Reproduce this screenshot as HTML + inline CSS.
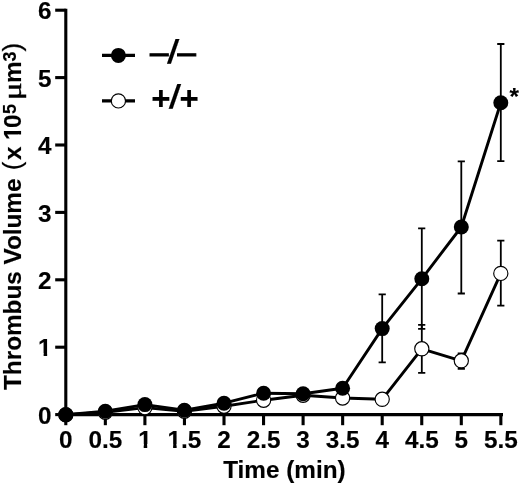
<!DOCTYPE html><html><head><meta charset="utf-8"><title>Thrombus Volume</title>
<style>html,body{margin:0;padding:0;background:#fff}svg{display:block}text{font-family:"Liberation Sans",sans-serif;font-weight:bold;fill:#000;stroke:#000;stroke-width:0.15}</style></head><body>
<svg width="520" height="484" viewBox="0 0 520 484">
<rect width="520" height="484" fill="#fff"/>
<g stroke="#000" stroke-width="3.1" fill="none" stroke-linecap="butt">
<path d="M65.80 8.8V416.15"/>
<path d="M64.25 414.60H503"/>
<path d="M55.2 414.60H65.80"/>
<path d="M55.2 347.20H65.80"/>
<path d="M55.2 279.80H65.80"/>
<path d="M55.2 212.40H65.80"/>
<path d="M55.2 145.00H65.80"/>
<path d="M55.2 77.60H65.80"/>
<path d="M55.2 10.20H65.80"/>
<path d="M65.80 414.60V425.2"/>
<path d="M105.35 414.60V425.2"/>
<path d="M144.90 414.60V425.2"/>
<path d="M184.45 414.60V425.2"/>
<path d="M224.00 414.60V425.2"/>
<path d="M263.55 414.60V425.2"/>
<path d="M303.10 414.60V425.2"/>
<path d="M342.65 414.60V425.2"/>
<path d="M382.20 414.60V425.2"/>
<path d="M421.75 414.60V425.2"/>
<path d="M461.30 414.60V425.2"/>
<path d="M500.85 414.60V425.2"/>
</g>
<g stroke="#000" stroke-width="1.8" fill="none">
<path d="M382.2 294.3V362.3M378.6 294.3h7.2M378.6 362.3h7.2"/>
<path d="M421.8 228.4V328.8M418.1 228.4h7.2M418.1 328.8h7.2"/>
<path d="M461.3 161.4V293.5M457.7 161.4h7.2M457.7 293.5h7.2"/>
<path d="M500.8 44.0V161.2M497.2 44.0h7.2M497.2 161.2h7.2"/>
<path d="M421.8 324.9V372.8M418.1 324.9h7.2M418.1 372.8h7.2"/>
<path d="M461.3 353.5V368.8M457.7 353.5h7.2M457.7 368.8h7.2"/>
<path d="M500.8 240.7V305.7M497.2 240.7h7.2M497.2 305.7h7.2"/>
</g>
<g stroke="#000" stroke-width="2.9" fill="none" stroke-linejoin="round">
<polyline points="65.8,414.7 105.3,412.2 144.9,407.6 184.4,411.2 224.0,406.2 263.6,400.2 303.1,395.2 342.6,398.0 382.2,399.3 421.8,348.8 461.3,360.8 500.8,273.4"/>
<polyline points="65.8,414.7 105.3,411.2 144.9,404.6 184.4,410.2 224.0,403.2 263.6,393.2 303.1,393.7 342.6,388.2 382.2,328.6 421.8,278.8 461.3,227.0 500.8,102.8"/>
</g>
<g stroke="#000" stroke-width="1.15" fill="#fff">
<circle cx="65.8" cy="414.7" r="7.1"/>
<circle cx="105.3" cy="412.2" r="7.1"/>
<circle cx="144.9" cy="407.6" r="7.1"/>
<circle cx="184.4" cy="411.2" r="7.1"/>
<circle cx="224.0" cy="406.2" r="7.1"/>
<circle cx="263.6" cy="400.2" r="7.1"/>
<circle cx="303.1" cy="395.2" r="7.1"/>
<circle cx="342.6" cy="398.0" r="7.1"/>
<circle cx="382.2" cy="399.3" r="7.1"/>
<circle cx="421.8" cy="348.8" r="7.1"/>
<circle cx="461.3" cy="360.8" r="7.1"/>
<circle cx="500.8" cy="273.4" r="7.1"/>
</g><g fill="#000">
<circle cx="65.8" cy="414.7" r="7.5"/>
<circle cx="105.3" cy="411.2" r="7.5"/>
<circle cx="144.9" cy="404.6" r="7.5"/>
<circle cx="184.4" cy="410.2" r="7.5"/>
<circle cx="224.0" cy="403.2" r="7.5"/>
<circle cx="263.6" cy="393.2" r="7.5"/>
<circle cx="303.1" cy="393.7" r="7.5"/>
<circle cx="342.6" cy="388.2" r="7.5"/>
<circle cx="382.2" cy="328.6" r="7.5"/>
<circle cx="421.8" cy="278.8" r="7.5"/>
<circle cx="461.3" cy="227.0" r="7.5"/>
<circle cx="500.8" cy="102.8" r="7.5"/>
</g>
<g stroke="#000" stroke-width="3.3"><path d="M102 55.4H135M102 100.9H135"/></g>
<circle cx="118.4" cy="55.4" r="7.5" fill="#000"/>
<circle cx="118.4" cy="100.9" r="7.1" fill="#fff" stroke="#000" stroke-width="1.15"/>
<g font-size="33" style="stroke-width:0">
<text x="150" y="63.4" style="font-weight:normal;stroke-width:1.0">–</text>
<text transform="translate(166.8 62.6) skewX(-9)">/</text>
<text x="177.6" y="63.4" style="font-weight:normal;stroke-width:1.0">–</text>
<text x="151.2" y="110.2">+</text>
<text transform="translate(168.4 107.9) skewX(-9)">/</text>
<text x="179.6" y="110.2">+</text>
</g>
<g font-size="24.3" text-anchor="middle">
<text x="65.8" y="448">0</text>
<text x="105.3" y="448">0.5</text>
<text x="144.9" y="448">1</text>
<text x="184.4" y="448">1.5</text>
<text x="224.0" y="448">2</text>
<text x="263.6" y="448">2.5</text>
<text x="303.1" y="448">3</text>
<text x="342.6" y="448">3.5</text>
<text x="382.2" y="448">4</text>
<text x="421.8" y="448">4.5</text>
<text x="461.3" y="448">5</text>
<text x="500.8" y="448">5.5</text>
</g><g font-size="24.3" text-anchor="end">
<text x="51.6" y="423.7">0</text>
<text x="51.6" y="356.3">1</text>
<text x="51.6" y="288.9">2</text>
<text x="51.6" y="221.5">3</text>
<text x="51.6" y="154.1">4</text>
<text x="51.6" y="86.7">5</text>
<text x="51.6" y="19.3">6</text>
</g>
<g fill="#fff">
<rect x="137.66" y="444.00" width="6.03" height="5.30"/><rect x="147.21" y="444.00" width="5.52" height="5.30"/>
<rect x="167.08" y="444.00" width="6.03" height="5.30"/><rect x="176.63" y="444.00" width="5.52" height="5.30"/>
<rect x="37.60" y="353.00" width="6.03" height="4.60"/><rect x="47.15" y="353.00" width="5.52" height="4.60"/>
</g>
<text x="284.4" y="478" font-size="24.3" text-anchor="middle">Time (min)</text>
<text x="514.2" y="104.8" font-size="24.3" text-anchor="middle">*</text>
<text transform="translate(21.4 390.0) rotate(-90)" font-size="24.3">Thrombus Volume</text>
<text transform="translate(21.4 170.2) rotate(-90)" font-size="26" style="font-weight:normal;stroke-width:0.25">(</text>
<text transform="translate(21.4 160.0) rotate(-90)" font-size="24.3">x</text>
<text transform="translate(21.4 140.0) rotate(-90)" font-size="24.3">1</text>
<g fill="#fff" transform="translate(21.4 140) rotate(-90)"><rect x="-0.49" y="-3.40" width="6.03" height="4.70"/><rect x="9.06" y="-3.40" width="5.52" height="4.70"/></g>
<text transform="translate(21.4 127.9) rotate(-90)" font-size="24.3">0</text>
<text transform="translate(15.6 114.0) rotate(-90)" font-size="18">5</text>
<text transform="translate(21.4 100.2) rotate(-90) scale(1.3 1)" font-size="25.5" style="font-family:'Liberation Serif',serif;font-weight:normal;stroke-width:0.45">μ</text>
<text transform="translate(21.4 83.0) rotate(-90)" font-size="24.3">m</text>
<text transform="translate(15.6 61.5) rotate(-90)" font-size="18">3</text>
<text transform="translate(21.4 51.5) rotate(-90)" font-size="26" style="font-weight:normal;stroke-width:0.25">)</text>
</svg></body></html>
